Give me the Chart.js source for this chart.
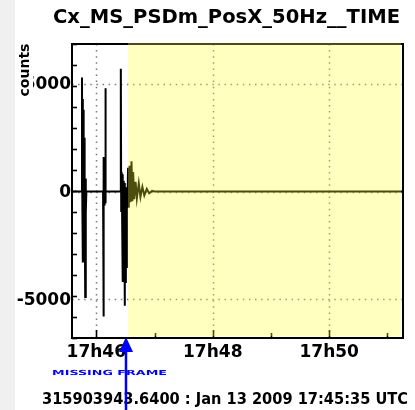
<!DOCTYPE html>
<html>
<head>
<meta charset="utf-8">
<script src="https://cdn.jsdelivr.net/npm/chart.js@4/dist/chart.umd.min.js"></script>
<style>
  html, body { margin: 0; padding: 0; background: #fff; }
  #wrap { width: 415px; height: 410px; }
</style>
</head>
<body>
<div id="wrap"><canvas id="c" width="415" height="410"></canvas></div>
<script>
// Channel and time reference
const channelName = 'Cx_MS_PSDm_PosX_50Hz__TIME';
const startLabel = '315903943.6400 : Jan 13 2009 17:45:35 UTC';
const markerLabel = 'MISSING FRAME';
const yTitle = 'counts';
const startSecOfHour = 2735;       // 17:45:35 expressed in seconds after 17:00:00
const spanSec = 341;               // length of the displayed stretch
const hourLabel = '17h';

// Samples: seconds after the start, value in counts
const sampleTimes = [
  0, 10.0, 10.3, 10.6, 11.0, 11.3, 11.7, 12.0, 12.4, 12.8, 13.2, 13.6, 14.0, 14.4, 14.8,
  32.0, 32.4, 32.8, 33.2, 33.6, 34.0, 34.4, 34.8,
  49.5, 50.3, 50.7, 51.2, 51.6, 52.0, 52.5, 52.9, 53.3, 53.8, 54.2, 54.6, 55.0, 55.5, 56.0, 56.5,
  57.0, 57.8, 58.5, 59.3, 60.2, 61.3, 62.2, 63.0, 64.0, 65.5, 66.8, 68.8, 70.5, 72.5, 74.5,
  77.0, 79.5, 82.5, 85.0, 341
];
const sampleCounts = [
  0, 0, 5300, -200, 4300, -3300, 3800, -3000, 2500, -3300, 700, -4900, 600, -1000, 0,
  0, -5800, 1600, -600, 1500, -500, 4800, 0,
  0, 5700, -900, 900, -1000, 800, -4200, 500, -4100, 400, -5300, 300, -4200, 200, -3500, 0,
  -700, 1100, -750, 1200, -500, 1400, -450, 900, -350, 450, -320, 380, -250, 220, -180,
  120, -80, 30, 0, 0
];

// Marked stretch (seconds after the start)
const missingFrameAt = 55.7;
const highlightFrom = 57.7;
const highlightTo = 339;

// Axis settings
const yRange = [-6800, 6850];
const yLabelValues = [5000, 0, -5000];
const yMinorStep = 1000;
const xMinorStep = 60;          // one minute
const xLabelEvery = 120;        // labelled every two minutes

const FONT = 'DejaVu Sans';

function fitText(ctx, text, x, y, width, font, color) {
  ctx.save();
  ctx.font = font;
  ctx.fillStyle = color;
  ctx.textBaseline = 'alphabetic';
  ctx.textAlign = 'left';
  const w = ctx.measureText(text).width;
  ctx.translate(x, y);
  ctx.scale(width / w, 1);
  ctx.fillText(text, 0, 0);
  ctx.restore();
}

const decor = {
  id: 'decor',
  beforeDraw(chart) {
    const ctx = chart.ctx;
    ctx.save();
    ctx.fillStyle = '#ffffff';
    ctx.fillRect(0, 0, chart.width, chart.height);
    ctx.fillStyle = '#f0f0f0';
    ctx.fillRect(0, 0, 15, chart.height);
    ctx.restore();
  },
  beforeDatasetsDraw(chart) {
    const ctx = chart.ctx;
    const a = chart.chartArea;
    const xs = chart.scales.x, ys = chart.scales.y;
    ctx.save();
    // dotted grid at the labelled values
    ctx.strokeStyle = '#7a7a7a';
    ctx.lineWidth = 1.5;
    ctx.setLineDash([1.5, 4.6]);
    xs.ticks.forEach(t => {
      if (t.value % xLabelEvery !== 0) return;
      const px = Math.round(xs.getPixelForValue(t.value)) + 0.5;
      ctx.beginPath(); ctx.moveTo(px, a.top); ctx.lineTo(px, a.bottom); ctx.stroke();
    });
    yLabelValues.forEach(v => {
      const py = Math.round(ys.getPixelForValue(v)) + 0.5;
      ctx.beginPath(); ctx.moveTo(a.left, py); ctx.lineTo(a.right, py); ctx.stroke();
    });
    ctx.setLineDash([]);
    // frame
    ctx.strokeStyle = '#000';
    ctx.lineWidth = 2;
    ctx.strokeRect(a.left, a.top, a.right - a.left, a.bottom - a.top);
    // inward tick marks
    ctx.lineWidth = 1.6;
    xs.ticks.forEach(t => {
      const px = Math.round(xs.getPixelForValue(t.value)) + 0.5;
      const len = t.value % xLabelEvery === 0 ? 8 : 5;
      ctx.beginPath(); ctx.moveTo(px, a.bottom); ctx.lineTo(px, a.bottom - len); ctx.stroke();
    });
    ys.ticks.forEach(t => {
      const py = Math.round(ys.getPixelForValue(t.value)) + 0.5;
      const len = yLabelValues.includes(t.value) ? 11 : 5;
      ctx.beginPath(); ctx.moveTo(a.left, py); ctx.lineTo(a.left + len, py); ctx.stroke();
    });
    ctx.restore();
  },
  afterDatasetsDraw(chart) {
    const ctx = chart.ctx;
    const a = chart.chartArea;
    const xs = chart.scales.x;
    const x0 = xs.getPixelForValue(startSecOfHour + highlightFrom);
    const x1 = xs.getPixelForValue(startSecOfHour + highlightTo);
    ctx.save();
    ctx.fillStyle = 'rgba(255,255,45,0.3)';
    ctx.fillRect(x0, a.top - 1, x1 - x0, a.bottom - a.top - 1);
    ctx.restore();
  },
  afterDraw(chart) {
    const ctx = chart.ctx;
    const a = chart.chartArea;
    const xs = chart.scales.x, ys = chart.scales.y;
    // y tick labels
    ctx.save();
    ctx.font = 'bold 17px "' + FONT + '"';
    ctx.fillStyle = '#000';
    ctx.textAlign = 'right';
    ctx.textBaseline = 'middle';
    yLabelValues.forEach(v => {
      ctx.fillText(String(v), a.left - 1, ys.getPixelForValue(v) + 1);
    });
    ctx.restore();
    // title
    fitText(ctx, channelName, 53, 23, 347, 'bold 20px "' + FONT + '"', '#000');
    // y axis title
    ctx.save();
    ctx.translate(25, 70);
    ctx.rotate(-Math.PI / 2);
    ctx.font = 'bold 14px "' + FONT + '"';
    const tw = ctx.measureText(yTitle).width;
    ctx.fillStyle = '#fff';
    ctx.fillRect(-tw / 2 - 1, -8, tw + 2, 16);
    ctx.fillStyle = '#000';
    ctx.textAlign = 'center';
    ctx.textBaseline = 'middle';
    ctx.fillText(yTitle, 0, 0);
    ctx.restore();
    // marker caption
    fitText(ctx, markerLabel, 52, 375, 115, 'bold 7px "' + FONT + '"', '#0000ff');
    // start time
    fitText(ctx, startLabel, 42, 404, 366, 'bold 16px "' + FONT + '"', '#000');
    // marker arrow
    const ax = Math.round(xs.getPixelForValue(startSecOfHour + missingFrameAt));
    ctx.save();
    ctx.strokeStyle = '#0000ff';
    ctx.fillStyle = '#0000ff';
    ctx.lineWidth = 2.5;
    ctx.beginPath(); ctx.moveTo(ax, chart.height); ctx.lineTo(ax, a.bottom + 12); ctx.stroke();
    ctx.beginPath();
    ctx.moveTo(ax, a.bottom - 1);
    ctx.lineTo(ax - 7, a.bottom + 14);
    ctx.lineTo(ax + 7, a.bottom + 14);
    ctx.closePath();
    ctx.fill();
    ctx.restore();
  }
};

const points = sampleTimes.map((t, i) => ({ x: startSecOfHour + t, y: sampleCounts[i] }));

new Chart(document.getElementById('c'), {
  type: 'line',
  data: {
    datasets: [{
      data: points,
      borderColor: '#000',
      borderWidth: 2,
      pointRadius: 0,
      tension: 0,
      fill: false
    }]
  },
  options: {
    responsive: false,
    animation: false,
    devicePixelRatio: 1,
    layout: { padding: { top: 44, right: 12, left: 0, bottom: 0 } },
    plugins: { legend: { display: false }, tooltip: { enabled: false }, title: { display: false } },
    scales: {
      x: {
        type: 'linear',
        min: startSecOfHour,
        max: startSecOfHour + spanSec,
        grid: { display: false, drawTicks: false },
        border: { display: false },
        afterFit: s => { s.height = 72; },
        ticks: {
          stepSize: xMinorStep,
          includeBounds: false,
          autoSkip: false,
          maxRotation: 0,
          padding: 4,
          color: '#000',
          font: { family: FONT, size: 17, weight: 'bold' },
          callback: v => (v % xLabelEvery === 0 ? hourLabel + (v / 60) : '')
        }
      },
      y: {
        min: yRange[0],
        max: yRange[1],
        grid: { display: false, drawTicks: false },
        border: { display: false },
        afterFit: s => { s.width = 72; },
        ticks: {
          stepSize: yMinorStep,
          includeBounds: false,
          autoSkip: false,
          display: false
        }
      }
    }
  },
  plugins: [decor]
});
</script>
</body>
</html>
